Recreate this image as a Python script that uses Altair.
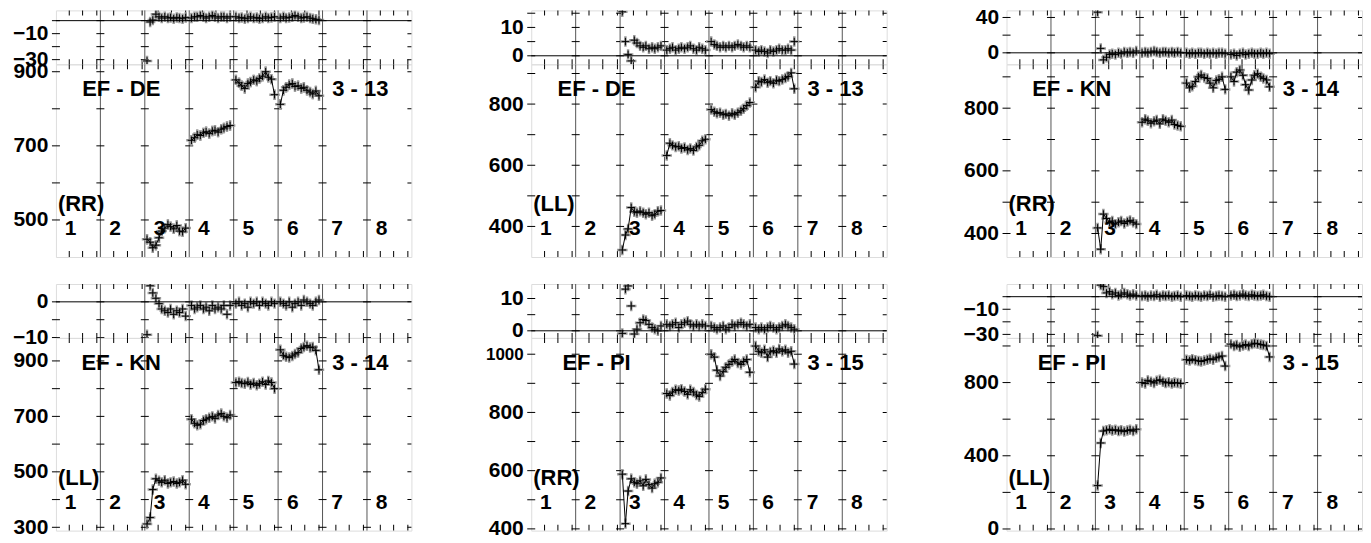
import altair as alt
import pandas as pd

FONT = "Liberation Sans"

SEGMENTS = [3, 4, 5, 6]
POINT_OFFSETS = [0.05, 0.12, 0.18, 0.25, 0.32, 0.38, 0.45, 0.52, 0.58, 0.65, 0.72, 0.78, 0.85, 0.92]
SCAN_LABELS = ["1", "2", "3", "4", "5", "6", "7", "8"]
SCAN_EDGES = [0, 1, 2, 3, 4, 5, 6, 7, 8]
X_MINOR_TICKS = [0.3, 0.6, 0.92, 1.3, 1.61, 1.94, 2.3, 2.6, 2.92, 3.3, 3.6, 3.92,
                 4.3, 4.6, 4.92, 5.3, 5.6, 5.92, 6.3, 6.6, 6.92, 7.3, 7.6, 7.92]

# ---- EF - DE (RR) 3 - 13
A_MAIN = [
    [448, 440, 425, 432, 452, 470, 478, 488, 482, 476, 485, 470, 468, 478],
    [715, 722, 730, 728, 735, 738, 733, 740, 742, 737, 745, 748, 752, 755],
    [878, 870, 862, 855, 868, 872, 878, 875, 882, 888, 900, 885, 880, 838],
    [812, 850, 858, 865, 868, 860, 862, 855, 858, 850, 845, 840, 848, 835],
]
A_RES = [
    [-31, -1, 0.5, 5, 3, 2, 3, 2, 2.5, 1.5, 2.5, 2, 1.5, 2.5],
    [2, 3, 3, 4, 3, 2, 3, 4, 3, 2, 3, 3, 2, 3],
    [3, 2, 2.5, 1.5, 2, 3, 2, 2.5, 1.5, 2, 3, 2, 2.5, 3],
    [2, 3, 2, 2.5, 3, 4, 3, 2, 2.5, 3, 2, 1.5, 1, 0.5],
]
# ---- EF - DE (LL) 3 - 13
B_MAIN = [
    [323, 372, 392, 462, 448, 445, 450, 445, 440, 445, 435, 440, 450, 452],
    [632, 672, 665, 660, 662, 655, 658, 650, 655, 648, 660, 665, 680, 685],
    [782, 775, 770, 772, 765, 768, 762, 770, 765, 772, 778, 785, 795, 805],
    [855, 875, 872, 880, 870, 875, 868, 878, 875, 880, 885, 890, 902, 850],
]
B_RES = [
    [15.5, 5, 0.5, -1.8, 5.5, 4.5, 3.5, 3, 3.5, 2.5, 3, 2.5, 3, 3.5],
    [2, 2.5, 3, 2, 2.5, 3, 2.5, 3, 3.5, 2.5, 2, 3, 2.5, 2],
    [5, 4, 3.5, 3, 3.5, 3, 3.5, 3, 3.5, 4, 3.5, 3, 3.5, 3],
    [2, 1.5, 2, 1.5, 1, 2, 1.5, 2, 2.5, 2, 2, 2.5, 2, 5],
]
# ---- EF - KN (RR) 3 - 14
C_MAIN = [
    [418, 350, 462, 448, 435, 440, 430, 436, 440, 432, 438, 442, 436, 430],
    [755, 765, 760, 752, 758, 762, 750, 765, 760, 755, 762, 748, 745, 742],
    [880, 865, 870, 885, 900, 906, 898, 895, 880, 865, 888, 892, 900, 860],
    [900, 885, 915, 922, 905, 875, 858, 890, 905, 910, 900, 895, 890, 868],
]
C_RES = [
    [46, 5, -8, -5, -2, -1, -2, 0, -1, 1, 0, 1, 0, 2],
    [0, 1, 0, 1, 2, 1, 0, 1, 1, 0, 1, 0, 1, 0],
    [0, -1, 0, -1, 0, 0, -1, 0, -1, 0, -1, 0, 0, -1],
    [-2, -1, -3, -1, 0, -2, -1, 0, -1, -1, 0, -1, 0, -1],
]
# ---- EF - KN (LL) 3 - 14
D_MAIN = [
    [312, 335, 436, 475, 468, 462, 470, 458, 462, 465, 458, 462, 470, 455],
    [690, 675, 668, 672, 685, 690, 695, 700, 692, 705, 710, 700, 695, 705],
    [822, 825, 820, 818, 824, 815, 820, 812, 818, 825, 815, 828, 822, 800],
    [940, 920, 915, 912, 918, 925, 930, 945, 950, 955, 948, 950, 938, 868],
]
D_RES = [
    [-9.2, 4.5, 2.5, 1, -0.5, -2, -2.5, -3, -2, -3.5, -2.5, -3, -2, -4],
    [-1, -2, -1.5, -1, -2, -1.5, -2.5, -1, -2, -1.5, -2, -1, -3.5, -1],
    [-0.5, 0, -1, -0.5, -1.5, 0, -0.5, 0, -1, 0, -0.5, -1, 0, -0.5],
    [0, -0.5, -1, 0, -1.5, -0.5, 0, -1, 0.5, 0, -0.5, -1, 0, 0.5],
]
# ---- EF - PI (RR) 3 - 15
E_MAIN = [
    [588, 418, 530, 572, 560, 555, 565, 548, 570, 552, 540, 555, 560, 575],
    [865, 858, 870, 878, 875, 880, 872, 862, 878, 870, 860, 855, 868, 880],
    [1000, 990, 945, 925, 940, 955, 965, 975, 982, 970, 965, 975, 982, 938],
    [1028, 1010, 1005, 1015, 990, 1008, 1012, 1005, 1018, 1010, 1015, 1005, 1010, 966],
]
E_RES = [
    [-0.8, 12.9, 13.9, 7.7, -1, 0.5, 2.5, 3.5, 3.2, 2, 1, 0.5, 0, 1.5],
    [2, 1.5, 2, 2.5, 1, 2, 2.5, 3, 2, 1.5, 2, 1.5, 2, 1.5],
    [1.5, 1, 0.5, 1, 1.5, 0.5, 1, 2, 1.5, 2, 2.5, 2, 1.5, 2],
    [1, 0.5, 1, 0.5, 1, 1.5, 1, 0.5, 1, 1.5, 2, 1.5, 1, 0.5],
]
# ---- EF - PI (LL) 3 - 15
F_MAIN = [
    [237, 470, 535, 540, 545, 538, 542, 535, 540, 532, 538, 542, 535, 545],
    [800, 795, 812, 805, 798, 810, 815, 805, 798, 802, 795, 800, 798, 795],
    [925, 920, 928, 922, 918, 915, 920, 925, 930, 925, 935, 940, 945, 890],
    [1010, 1000, 1005, 995, 1002, 1008, 1000, 1010, 1015, 1012, 1008, 1005, 1000, 940],
]
F_RES = [
    [-31, 9.2, 8, 3, 4, 2, 3, 1, 2, 3, 2, 1, 2, 1],
    [0.5, 1, 0, 1, 0.5, 1.5, 0, 1, 0.5, 1, 0, 0.5, 1, 0],
    [1, 0.5, 0, 1, 0.5, 0, 1, 0.5, 1.5, 0, 0.5, 1, 0.5, 0],
    [1, 1.5, 0.5, 1, 2, 1, 0.5, 1.5, 1, 0.5, 1, 1.5, 0.5, 0],
]

PANELS = [
    dict(base="EF - DE", code="3 - 13", pol="(RR)", main=A_MAIN, res=A_RES,
         mdom=[400, 920], mticks=[500, 600, 700, 800, 900], mlabels=[500, 700, 900],
         rdom=[-33.6, 7.9], rticks=[-30, -20, -10, 0], rlabels=[-30, -10], merr=14, rerr=2.5),
    dict(base="EF - DE", code="3 - 13", pol="(LL)", main=B_MAIN, res=B_RES,
         mdom=[300, 930], mticks=[400, 500, 600, 700, 800, 900], mlabels=[400, 600, 800],
         rdom=[-3, 16], rticks=[0, 5, 10, 15], rlabels=[0, 10], merr=14, rerr=1.1),
    dict(base="EF - KN", code="3 - 14", pol="(RR)", main=C_MAIN, res=C_RES,
         mdom=[325, 940], mticks=[400, 500, 600, 700, 800, 900], mlabels=[400, 600, 800],
         rdom=[-13, 48], rticks=[0, 20, 40], rlabels=[0, 40], merr=14, rerr=3.5),
    dict(base="EF - KN", code="3 - 14", pol="(LL)", main=D_MAIN, res=D_RES,
         mdom=[288, 983], mticks=[300, 400, 500, 600, 700, 800, 900], mlabels=[300, 500, 700, 900],
         rdom=[-10.1, 5.0], rticks=[-10, -5, 0], rlabels=[-10, 0], merr=17, rerr=0.9),
    dict(base="EF - PI", code="3 - 15", pol="(RR)", main=E_MAIN, res=E_RES,
         mdom=[394, 1056], mticks=[400, 500, 600, 700, 800, 900, 1000], mlabels=[400, 600, 800, 1000],
         rdom=[-2.2, 14.5], rticks=[0, 5, 10], rlabels=[0, 10], merr=17, rerr=0.9),
    dict(base="EF - PI", code="3 - 15", pol="(LL)", main=F_MAIN, res=F_RES,
         mdom=[-9, 1044], mticks=[0, 200, 400, 600, 800, 1000], mlabels=[0, 400, 800],
         rdom=[-32.8, 10.1], rticks=[-30, -20, -10, 0], rlabels=[-30, -10], merr=26, rerr=2.5),
]

W = 356
HR = 54
HM = 193
AXIS_EXTENT = 47
TOP_ROOM = 6
CROSS = "M-1,0L1,0M0,-1L0,1"
FUZZ = "#9a9a9a"


def xs():
    return alt.Scale(domain=[0, 8], nice=False, zero=False)


def XE(field):
    return alt.X(field, scale=xs(), axis=None)


def panel_df(p):
    rows = []
    for si, seg in enumerate(SEGMENTS):
        for j, off in enumerate(POINT_OFFSETS):
            rows.append(dict(seg=seg, x=seg - 1 + off, v=p["main"][si][j], r=p["res"][si][j]))
    return pd.DataFrame(rows)


def yaxis(labels):
    return alt.Axis(values=labels, ticks=False, domain=False, grid=False, title=None,
                    format="d", labelPadding=8, labelFont=FONT,
                    labelFontSize={"condition": {"test": "datum.value >= 1000", "value": 17},
                                   "value": 21},
                    labelFontWeight="bold", labelColor="black",
                    minExtent=AXIS_EXTENT, maxExtent=AXIS_EXTENT)


def common_layers(YE, ticks, height, tick_bottom, tick_top):
    edges = alt.Chart(pd.DataFrame({"b": SCAN_EDGES[1:-1]})).mark_rule(
        color="#555555", strokeWidth=1).encode(x=XE("b:Q"))
    inner = pd.DataFrame([{"cx": e, "cy": t} for e in SCAN_EDGES[:-1] for t in ticks])
    outer = pd.DataFrame([{"cx": SCAN_EDGES[-1], "cy": t} for t in ticks])
    crosses = alt.Chart(inner).mark_tick(orient="horizontal", size=8, thickness=1,
                                         color="black", opacity=1).encode(
        x=XE("cx:Q"), y=YE("cy:Q"))
    crosses_r = alt.Chart(outer).mark_tick(orient="horizontal", size=8, thickness=1,
                                           color="black", opacity=1, clip=True).encode(
        x=XE("cx:Q"), y=YE("cy:Q"))
    xt = pd.DataFrame({"t": X_MINOR_TICKS})
    bot = alt.Chart(xt).mark_tick(orient="vertical", size=2 * tick_bottom, thickness=1,
                                  color="black", opacity=1, clip=True).encode(
        x=XE("t:Q"), y=alt.value(height))
    top = alt.Chart(xt).mark_tick(orient="vertical", size=2 * tick_top, thickness=1,
                                  color="black", opacity=1, clip=True).encode(
        x=XE("t:Q"), y=alt.value(0))
    return [edges, crosses, crosses_r, bot, top]


def point_layers(base, YE, field, err):
    bars = base.transform_calculate(
        lo=alt.datum[field] - err, hi=alt.datum[field] + err
    ).mark_rule(color=FUZZ, strokeWidth=2, clip=True).encode(
        x=XE("x:Q"), y=YE("lo:Q"), y2="hi:Q")
    halo = base.mark_point(shape=CROSS, size=110, color=FUZZ, strokeWidth=2.5,
                           filled=False, opacity=1, clip=True).encode(
        x=XE("x:Q"), y=YE(field + ":Q"))
    pts = base.mark_point(shape=CROSS, size=56, color="black", strokeWidth=1,
                          filled=False, opacity=1, clip=True).encode(
        x=XE("x:Q"), y=YE(field + ":Q"))
    return bars, halo, pts


def residual_chart(p, df):
    ys = alt.Scale(domain=p["rdom"], nice=False, zero=False)
    ax = yaxis(p["rlabels"])

    def YE(field):
        return alt.Y(field, scale=ys, axis=ax)

    layers = common_layers(YE, p["rticks"], HR, 5, 5)
    zero = alt.Chart(pd.DataFrame({"z": [0]})).mark_rule(color="black", strokeWidth=1).encode(
        y=YE("z:Q"))
    # transparent strip above each residual panel so all panels reserve the same room
    room = alt.Chart(pd.DataFrame({"z": [0]})).mark_rect(opacity=0, strokeWidth=0).encode(
        x=alt.value(0), x2=alt.value(W), y=alt.value(-TOP_ROOM), y2=alt.value(0))
    bars, halo, pts = point_layers(alt.Chart(df), YE, "r", p["rerr"])
    return alt.layer(*layers, room, bars, halo, zero, pts).properties(width=W, height=HR)


def main_chart(p, df):
    ys = alt.Scale(domain=p["mdom"], nice=False, zero=False)
    ax = yaxis(p["mlabels"])

    def YE(field):
        return alt.Y(field, scale=ys, axis=ax)

    layers = common_layers(YE, p["mticks"], HM, 6, 5)
    base = alt.Chart(df)
    bars, halo, pts = point_layers(base, YE, "v", p["merr"])
    line = base.mark_line(color="black", strokeWidth=1, clip=True).encode(
        x=XE("x:Q"), y=YE("v:Q"), detail="seg:N")
    txt = dict(font=FONT, fontWeight="bold", color="black")
    base_t = alt.Chart(pd.DataFrame({"x": [1.47], "t": [p["base"]]})).mark_text(
        fontSize=22, **txt).encode(x=XE("x:Q"), y=alt.value(25), text="t:N")
    code_t = alt.Chart(pd.DataFrame({"x": [6.85], "t": [p["code"]]})).mark_text(
        fontSize=22, **txt).encode(x=XE("x:Q"), y=alt.value(25), text="t:N")
    pol_t = alt.Chart(pd.DataFrame({"x": [0], "t": [p["pol"]]})).mark_text(
        fontSize=22, align="left", dx=2, **txt).encode(
        x=XE("x:Q"), y=alt.value(HM - 53), text="t:N")
    seg_df = pd.DataFrame({"x": [i + 0.33 for i in range(len(SCAN_LABELS))], "t": SCAN_LABELS})
    seg_t = alt.Chart(seg_df).mark_text(fontSize=21, **txt).encode(
        x=XE("x:Q"), y=alt.value(HM - 28), text="t:N")
    return alt.layer(*layers, bars, halo, line, pts, base_t, code_t, pol_t, seg_t).properties(
        width=W, height=HM)


def column(p):
    df = panel_df(p)
    return alt.vconcat(residual_chart(p, df), main_chart(p, df), spacing=0, bounds="flush")


row1 = alt.hconcat(*[column(p) for p in PANELS[:3]], spacing=71)
row2 = alt.hconcat(*[column(p) for p in PANELS[3:]], spacing=71)

chart = alt.vconcat(row1, row2, spacing=25 - TOP_ROOM).properties(
    padding={"left": 0, "top": 1 - TOP_ROOM, "right": 0, "bottom": 0}
).configure_view(stroke="black", strokeWidth=1).configure(background="white")

chart.save("out.html", embed_options={"renderer": "svg", "actions": False})
